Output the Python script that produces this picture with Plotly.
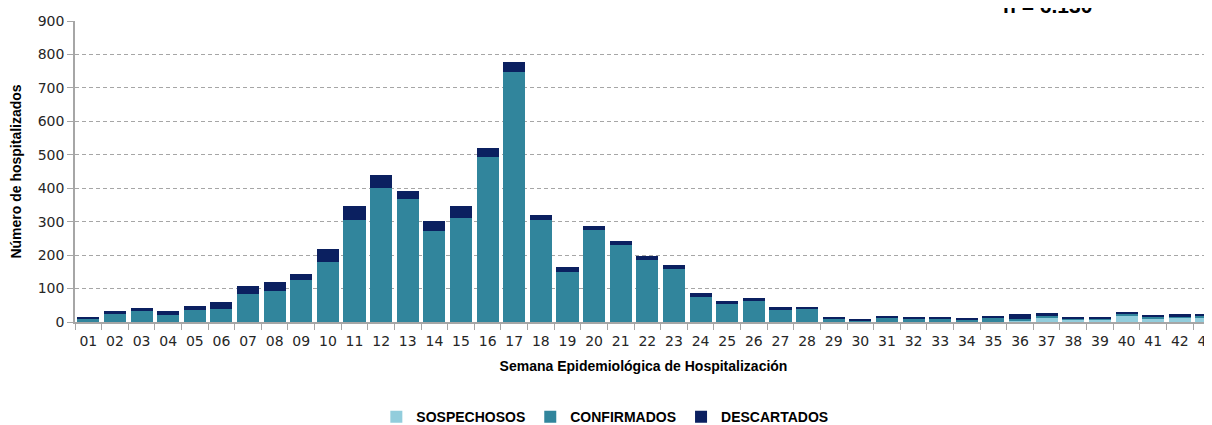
import plotly.graph_objects as go

# semanas epidemiológicas (la 43 queda cortada en el borde derecho)
semanas = [f"{i:02d}" for i in range(1, 44)]

sospechosos = [0] * 35 + [4, 11, 6, 7, 18, 11, 13, 13]
confirmados = [9, 25, 32, 21, 35, 39, 85, 93, 127, 180,
               306, 400, 367, 272, 310, 492, 748, 306, 150, 275,
               229, 184, 157, 74, 55, 63, 37, 41, 10, 3,
               12, 11, 11, 7, 12, 5, 8, 3, 2, 6,
               4, 3, 4]
descartados = [4, 7, 11, 11, 13, 20, 23, 27, 18, 38,
               41, 39, 26, 29, 37, 27, 29, 15, 15, 11,
               12, 12, 12, 12, 8, 8, 7, 3, 4, 3,
               6, 4, 4, 4, 6, 14, 7, 6, 6, 6,
               4, 7, 6]

y_ticks = list(range(0, 1000, 100))

narrow = "Liberation Sans Narrow, Arial Narrow, Liberation Sans, sans-serif"
verdana = "DejaVu Sans, Verdana, sans-serif"

fig = go.Figure()
fig.add_trace(go.Bar(x=semanas, y=sospechosos, name="<b>SOSPECHOSOS</b>", marker_color="#92CDDC"))
fig.add_trace(go.Bar(x=semanas, y=confirmados, name="<b>CONFIRMADOS</b>", marker_color="#31859C"))
fig.add_trace(go.Bar(x=semanas, y=descartados, name="<b>DESCARTADOS</b>", marker_color="#0B2060"))

fig.update_traces(marker_line_width=0)

# la página html trae 8px de margen en el body, se compensa aquí
fig.update_layout(
    barmode="stack",
    bargap=0.17,
    width=1212, height=425,
    margin=dict(l=67, r=8, t=13, b=111, autoexpand=False),
    paper_bgcolor="white", plot_bgcolor="white",
    legend=dict(orientation="h", x=0.466, xanchor="center", y=-0.316, yanchor="middle",
                font=dict(family=narrow, size=14, color="black"),
                itemwidth=30, traceorder="normal"),
    # el título "n = 6.130" aparece cortado arriba, como en el original
    annotations=[dict(text="<b>n = 6.130</b>", xref="paper", yref="paper",
                      x=0.855, y=1.007, xanchor="center", yanchor="bottom",
                      showarrow=False, font=dict(family=narrow, size=21, color="black"))],
)

fig.update_xaxes(
    type="category",
    range=[-0.5, 42.21],
    automargin=False,
    tickangle=0,
    showline=True, linecolor="#A6A6A6", linewidth=1.5,
    ticks="outside", tickson="boundaries", ticklen=6, tickcolor="#A6A6A6",
    ticklabelstandoff=5,
    tickfont=dict(family=verdana, size=14, color="#262626"),
    title=dict(text="<b>Semana Epidemiológica de Hospitalización</b>",
               font=dict(family=narrow, size=14, color="black"), standoff=14),
)

fig.update_yaxes(
    range=[0, 900],
    automargin=False,
    tickvals=y_ticks,
    showline=True, linecolor="#A6A6A6", linewidth=1.5,
    ticks="outside", ticklen=6, tickcolor="#A6A6A6",
    showgrid=True, gridcolor="#A6A6A6", griddash="4px,3px", gridwidth=1,
    zeroline=False,
    tickfont=dict(family=verdana, size=14, color="#262626"),
    title=dict(text="<b>Número de hospitalizados</b>",
               font=dict(family=narrow, size=14, color="black"), standoff=13),
)

fig.write_html("out.html")
